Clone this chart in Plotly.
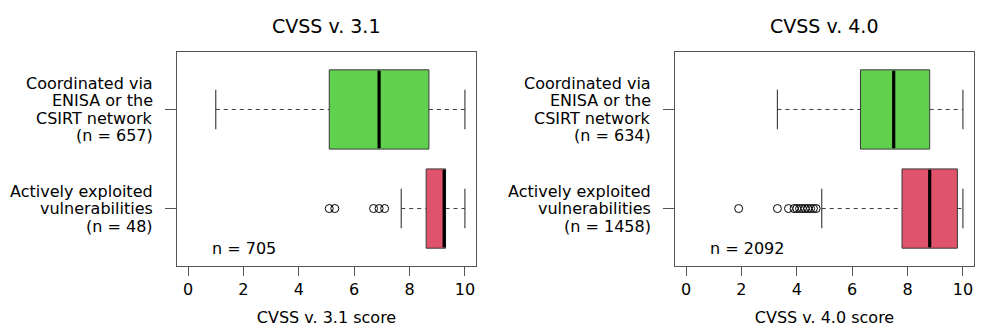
import plotly.graph_objects as go

# ---------------- data ----------------
positions = [1, 2]  # 1 = actively exploited, 2 = coordinated
group_lines = [["Actively exploited", "vulnerabilities"],
               ["Coordinated via", "ENISA or the", "CSIRT network"]]
panel_titles = ["CVSS v. 3.1", "CVSS v. 4.0"]
axis_titles = ["CVSS v. 3.1 score", "CVSS v. 4.0 score"]
group_n_v31 = [48, 657]
group_n_v40 = [1458, 634]
total_n = [705, 2092]

v31_lower = [7.7, 1.0]
v31_q1 = [8.6, 5.1]
v31_median = [9.25, 6.9]
v31_q3 = [9.3, 8.7]
v31_upper = [10.0, 10.0]
v31_outliers = [[5.1, 5.3, 6.7, 6.9, 7.1], []]

v40_lower = [4.9, 3.3]
v40_q1 = [7.8, 6.3]
v40_median = [8.8, 7.5]
v40_q3 = [9.8, 8.8]
v40_upper = [10.0, 10.0]
v40_outliers = [[1.9, 3.3, 3.7, 3.9, 4.0, 4.1, 4.2, 4.3, 4.4, 4.5, 4.6, 4.7], []]

x_ticks = [0, 2, 4, 6, 8, 10]
colors = ["#DF536B", "#61D04F"]

# ---------------- style ----------------
FONT = "DejaVu Sans"
EDGE = "#3a3a3a"
FRAME = "#555555"
BOX_HALF = 0.4
CAP_HALF = 0.2
LINE_SPACING = 17.5

panels = [
    dict(lower=v31_lower, q1=v31_q1, med=v31_median, q3=v31_q3, upper=v31_upper,
         out=v31_outliers, n=group_n_v31),
    dict(lower=v40_lower, q1=v40_q1, med=v40_median, q3=v40_q3, upper=v40_upper,
         out=v40_outliers, n=group_n_v40),
]

x_domains = [[0.1777, 0.4779], [0.6777, 0.9779]]
y_domain = [0.1865, 0.8410]

fig = go.Figure()
annotations = []

for p, pan in enumerate(panels):
    xa = "x" if p == 0 else "x2"
    ya = "y" if p == 0 else "y2"
    for i, pos in enumerate(positions):
        # box body
        fig.add_trace(go.Box(
            y=[pos], q1=[pan["q1"][i]], median=[pan["med"][i]], q3=[pan["q3"][i]],
            lowerfence=[pan["q1"][i]], upperfence=[pan["q3"][i]],
            orientation="h", width=2 * BOX_HALF, whiskerwidth=0,
            fillcolor=colors[i], line=dict(color=EDGE, width=1),
            boxpoints=False, showlegend=False, hoverinfo="skip",
            xaxis=xa, yaxis=ya))
        # dashed whiskers
        for a, b in [(pan["lower"][i], pan["q1"][i]), (pan["q3"][i], pan["upper"][i])]:
            fig.add_trace(go.Scatter(
                x=[a, b], y=[pos, pos], mode="lines",
                line=dict(color=EDGE, width=1, dash="4px,4px"),
                showlegend=False, hoverinfo="skip", xaxis=xa, yaxis=ya))
        # caps
        for c in [pan["lower"][i], pan["upper"][i]]:
            fig.add_trace(go.Scatter(
                x=[c, c], y=[pos - CAP_HALF, pos + CAP_HALF], mode="lines",
                line=dict(color="#444444", width=1.2),
                showlegend=False, hoverinfo="skip", xaxis=xa, yaxis=ya))
        # median
        fig.add_trace(go.Scatter(
            x=[pan["med"][i]] * 2, y=[pos - BOX_HALF + 0.01, pos + BOX_HALF - 0.01],
            mode="lines", line=dict(color="black", width=3.2),
            showlegend=False, hoverinfo="skip", xaxis=xa, yaxis=ya))
        # outliers
        if pan["out"][i]:
            fig.add_trace(go.Scatter(
                x=pan["out"][i], y=[pos] * len(pan["out"][i]), mode="markers",
                marker=dict(symbol="circle-open", size=8, color="black",
                            line=dict(width=1, color="black")),
                showlegend=False, hoverinfo="skip", xaxis=xa, yaxis=ya))
        # y labels (one annotation per line)
        lines = group_lines[i] + [f"(n = {pan['n'][i]})"]
        nl = len(lines)
        for j, txt in enumerate(lines):
            annotations.append(dict(
                text=txt, xref=f"{xa} domain", x=0, xanchor="right", xshift=-22,
                yref=ya, y=pos, yanchor="middle", height=17, valign="middle",
                yshift=((nl - 1) / 2 - j) * LINE_SPACING,
                showarrow=False, font=dict(family=FONT, size=16, color="black")))
    # panel title
    annotations.append(dict(
        text=panel_titles[p], xref=f"{xa} domain", x=0.5, xanchor="center",
        yref="paper", y=0.92, yanchor="middle", showarrow=False,
        font=dict(family=FONT, size=19, color="black")))
    # total n
    annotations.append(dict(
        text=f"n = {total_n[p]}", xref=xa, x=0.8, xanchor="left",
        yref=ya, y=0.6, yanchor="middle", showarrow=False,
        font=dict(family=FONT, size=16, color="black")))

xaxis_style = dict(
    range=[-0.4, 10.4], tickvals=x_ticks, ticktext=[str(t) for t in x_ticks],
    ticks="outside", ticklen=9, tickcolor=FRAME, tickwidth=1,
    showline=True, mirror=True, linecolor=FRAME, linewidth=1,
    showgrid=False, zeroline=False,
    tickfont=dict(family=FONT, size=16, color="black"),
    title_font=dict(family=FONT, size=16, color="black"), title_standoff=13,
    fixedrange=True)
yaxis_style = dict(
    range=[0.42, 2.58], tickvals=positions, showticklabels=False,
    ticks="outside", ticklen=11, tickcolor=FRAME, tickwidth=1,
    showline=True, mirror=True, linecolor=FRAME, linewidth=1,
    showgrid=False, zeroline=False, domain=y_domain, fixedrange=True)

fig.update_layout(
    width=996, height=327,
    margin=dict(l=0, r=0, t=0, b=0),
    paper_bgcolor="white", plot_bgcolor="white",
    xaxis=dict(domain=x_domains[0], anchor="y", title_text=axis_titles[0], **xaxis_style),
    xaxis2=dict(domain=x_domains[1], anchor="y2", title_text=axis_titles[1], **xaxis_style),
    yaxis=dict(anchor="x", **yaxis_style),
    yaxis2=dict(anchor="x2", **yaxis_style),
    annotations=annotations,
    showlegend=False,
)

fig.write_html("out.html",
               config={"displayModeBar": False},
               post_script="document.body.style.margin='0';document.body.style.overflow='hidden';")
